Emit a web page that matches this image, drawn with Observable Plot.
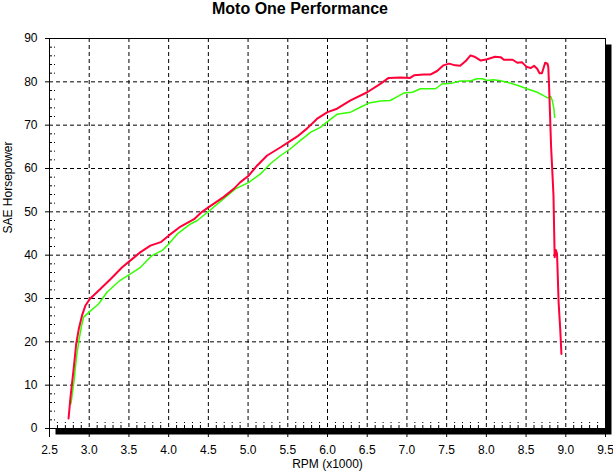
<!DOCTYPE html>
<html>
<head>
<meta charset="utf-8">
<script src="https://cdn.jsdelivr.net/npm/d3@7"></script>
<script src="https://cdn.jsdelivr.net/npm/@observablehq/plot@0.6"></script>
<style>
  html, body { margin: 0; padding: 0; background: white; }
  #title { width: 600px; height: 20px; line-height: 18px; text-align: center;
           font: bold 16px "Liberation Sans", Arial, sans-serif; color: black; }
  #chart svg { display: block; }
</style>
</head>
<body>
<div id="title">Moto One Performance</div>
<div id="chart"></div>
<script>
// Red run (RPM x1000, SAE hp)
const redRpm = [2.74, 2.764, 2.806, 2.836, 2.869, 2.91, 2.953, 3.007, 3.14, 3.27, 3.415, 3.52, 3.646, 3.77, 3.90, 4.00, 4.15, 4.32, 4.42, 4.505, 4.69, 4.82, 4.90, 5.01, 5.115, 5.24, 5.41, 5.51, 5.62, 5.74, 5.87, 6.00, 6.12, 6.29, 6.50, 6.67, 6.77, 6.92, 7.04, 7.09, 7.21, 7.30, 7.38, 7.46, 7.53, 7.61, 7.67, 7.74, 7.80, 7.85, 7.93, 8.01, 8.11, 8.18, 8.22, 8.33, 8.39, 8.45, 8.51, 8.56, 8.60, 8.64, 8.67, 8.70, 8.72, 8.74, 8.77, 8.78, 8.79, 8.80, 8.815, 8.83, 8.845, 8.86, 8.875, 8.89, 8.91, 8.93, 8.945];
const redHp  = [2.3, 7.2, 14.1, 19.5, 23.0, 26.1, 28.4, 29.9, 32.2, 34.5, 37.2, 38.8, 40.7, 42.2, 43.0, 44.5, 46.6, 48.3, 50.0, 51.1, 53.4, 55.3, 56.8, 58.4, 60.7, 63.0, 64.9, 66.1, 67.4, 69.2, 71.5, 73.0, 73.8, 75.7, 77.6, 79.6, 80.9, 81.0, 80.9, 81.5, 81.7, 81.7, 82.5, 83.8, 84.2, 83.8, 83.7, 84.8, 86.1, 85.8, 84.9, 85.2, 85.8, 85.7, 85.1, 85.1, 84.4, 84.5, 83.4, 83.2, 83.7, 83.0, 82.0, 82.0, 83.2, 84.4, 84.2, 83.4, 78.8, 73.4, 65.0, 59.5, 53.8, 39.5, 41.2, 40.3, 29.0, 23.0, 17.2];
// Green run
const greenRpm = [2.77, 2.81, 2.84, 2.87, 2.90, 2.93, 2.995, 3.12, 3.226, 3.39, 3.52, 3.646, 3.79, 3.92, 4.00, 4.11, 4.275, 4.36, 4.49, 4.69, 4.84, 5.01, 5.16, 5.28, 5.41, 5.53, 5.66, 5.79, 5.91, 6.02, 6.12, 6.29, 6.42, 6.52, 6.67, 6.79, 6.88, 6.96, 7.07, 7.17, 7.36, 7.44, 7.57, 7.67, 7.80, 7.88, 7.95, 8.01, 8.09, 8.16, 8.26, 8.39, 8.51, 8.64, 8.72, 8.77, 8.81, 8.83, 8.85, 8.86];
const greenHp  = [5.7, 11.1, 16.5, 20.3, 23.4, 25.7, 26.8, 28.8, 31.5, 34.2, 35.7, 37.2, 39.9, 41.1, 42.6, 44.9, 47.2, 48.0, 49.9, 53.0, 55.3, 56.8, 58.8, 61.1, 63.0, 64.5, 66.5, 68.4, 69.5, 71.1, 72.5, 73.0, 74.2, 75.1, 75.6, 75.7, 76.6, 77.4, 77.6, 78.4, 78.4, 79.5, 79.7, 80.2, 80.2, 80.7, 80.7, 80.3, 80.5, 80.3, 79.9, 79.2, 78.4, 77.6, 76.8, 76.3, 76.6, 75.7, 73.8, 71.8];

const xTicks = [2.5, 3.0, 3.5, 4.0, 4.5, 5.0, 5.5, 6.0, 6.5, 7.0, 7.5, 8.0, 8.5, 9.0, 9.5];
const yTicks = [0, 10, 20, 30, 40, 50, 60, 70, 80, 90];
const xMinor = d3.range(26, 95).map(i => i / 10).filter(v => Math.abs(v * 2 - Math.round(v * 2)) > 1e-6);
const yMinor = d3.range(2, 90, 2).filter(v => v % 10 !== 0);

const title = "Moto One Performance";
const xLabel = "RPM (x1000)";
const yLabel = "SAE Horsepower";

const red = redRpm.map((r, i) => ({rpm: r, hp: redHp[i]}));
const green = greenRpm.map((r, i) => ({rpm: r, hp: greenHp[i]}));

const chart = Plot.plot({
  width: 613,
  height: 453,
  marginLeft: 49,
  marginRight: 8,
  marginTop: 18,
  marginBottom: 45,
  style: {fontFamily: "'Liberation Sans', Arial, sans-serif", fontSize: "12px", background: "white", color: "black", overflow: "visible"},
  x: {domain: [2.5, 9.5], label: null},
  y: {domain: [0, 90], label: null},
  marks: [
    Plot.frame({fill: "black", dx: 6, dy: 6}),
    Plot.frame({fill: "white"}),
    Plot.gridX(xTicks.slice(1, -1), {stroke: "black", strokeOpacity: 1, strokeDasharray: "4,3"}),
    Plot.gridY(yTicks.slice(1, -1), {stroke: "black", strokeOpacity: 1, strokeDasharray: "4,3"}),
    Plot.ruleY(yMinor, {y: d => d, x1: 2.5, x2: 2.588, stroke: "black", strokeDasharray: "3,2,1,20"}),
    Plot.ruleX(xMinor, {x: d => d, y1: 0, y2: 1.6, stroke: "black", strokeDasharray: "3,2,1,20"}),
    Plot.frame({stroke: "black"}),
    Plot.line(green, {x: "rpm", y: "hp", stroke: "#33ff00", strokeWidth: 1.5}),
    Plot.line(red, {x: "rpm", y: "hp", stroke: "#ff0038", strokeWidth: 2}),
    Plot.axisX(xTicks, {tickSize: 9, tickPadding: 8, tickFormat: d3.format(".1f"), label: null}),
    Plot.axisY(yTicks, {tickSize: 4, tickPadding: 8, label: null}),
    Plot.text([yLabel], {frameAnchor: "left", rotate: -90, dx: -41, fontSize: 12, style: "letter-spacing:1px", fill: "black"}),
    Plot.text([xLabel], {frameAnchor: "bottom", dy: 39, fontSize: 12, fill: "black"})
  ]
});
document.getElementById("chart").appendChild(chart);
</script>
</body>
</html>
